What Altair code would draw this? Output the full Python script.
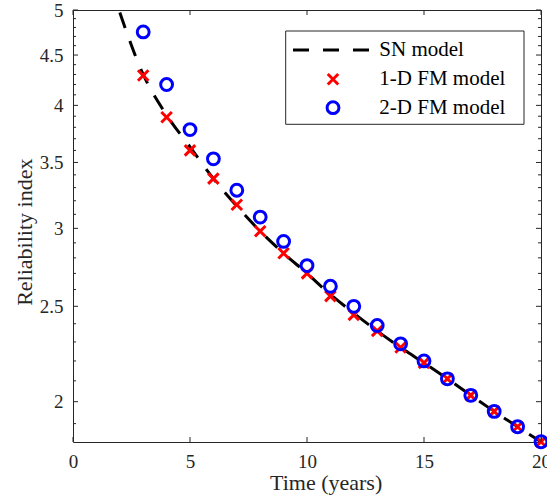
import altair as alt
import pandas as pd

# ---- data ----
time_pts = list(range(3, 21))
fm1_vals = [4.29, 3.89, 3.60, 3.37, 3.17, 2.98, 2.83, 2.70, 2.56, 2.45,
            2.36, 2.27, 2.19, 2.11, 2.03, 1.955, 1.886, 1.821]
fm2_vals = [4.75, 4.20, 3.78, 3.53, 3.28, 3.08, 2.91, 2.75, 2.62, 2.50,
            2.39, 2.29, 2.20, 2.11, 2.03, 1.955, 1.886, 1.821]
sn_time = list(range(2, 21))
sn_vals = [4.97, 4.30, 3.91, 3.63, 3.37, 3.16, 2.98, 2.83, 2.70, 2.57,
           2.46, 2.36, 2.27, 2.19, 2.11, 2.03, 1.955, 1.886, 1.821]
x_ticks = [0, 5, 10, 15, 20]
y_ticks = [2, 2.5, 3, 3.5, 4, 4.5, 5]
y_minor = [1.9, 2.1, 2.2, 2.3, 2.4, 2.6, 2.7, 2.8, 2.9, 3.1, 3.2, 3.3, 3.4,
           3.6, 3.7, 3.8, 3.9, 4.1, 4.2, 4.3, 4.4, 4.6, 4.7, 4.8, 4.9]
legend_labels = ["SN model", "1-D FM model", "2-D FM model"]

W, H = 468, 432
FONT = "Liberation Serif"
AX = "#262626"
XPATH = "M-1,-1L1,1M-1,1L1,-1"
X_SIZE = 110
O_SIZE = 140

xs = alt.Scale(domain=[0, 20], nice=False, zero=False)
ys = alt.Scale(type="log", domain=[1.82, 5], nice=False)

sn_df = pd.DataFrame({"t": sn_time, "v": sn_vals})
fm1_df = pd.DataFrame({"t": time_pts, "v": fm1_vals})
fm2_df = pd.DataFrame({"t": time_pts, "v": fm2_vals})

x_axis = alt.Axis(values=x_ticks, ticks=False, domain=False, grid=False,
                  labelFont=FONT, labelFontSize=19, labelColor=AX,
                  labelPadding=10, labelFlush=False, labelOverlap=False,
                  title="Time (years)", titleFont=FONT, titleFontSize=22,
                  titleFontWeight="normal", titleColor=AX, titleX=252.6,
                  titleY=47, titleBaseline="alphabetic", titleAlign="center")
y_axis = alt.Axis(values=y_ticks, format="~g", ticks=False, domain=False,
                  grid=False, labelFont=FONT, labelFontSize=19, labelColor=AX,
                  labelPadding=10, labelFlush=False, labelOverlap=False,
                  title="Reliability index", titleFont=FONT, titleFontSize=22,
                  titleFontWeight="normal", titleColor=AX, titleX=-42,
                  titleY=221.7, titleAngle=270, titleBaseline="alphabetic",
                  titleAlign="center")

X = alt.X("t:Q", scale=xs, axis=x_axis)
Y = alt.Y("v:Q", scale=ys, axis=y_axis)

sn_line = alt.Chart(sn_df).mark_line(
    color="black", strokeWidth=3, strokeDash=[16, 14], clip=True,
    interpolate="monotone"
).encode(x=X, y=Y)

fm1_pts = alt.Chart(fm1_df).mark_point(
    shape=XPATH, filled=False, stroke="#ff0000", strokeWidth=3, size=X_SIZE,
    opacity=1
).encode(x=X, y=Y)

fm2_pts = alt.Chart(fm2_df).mark_point(
    shape="circle", filled=False, stroke="#0000ff", strokeWidth=3, size=O_SIZE,
    opacity=1
).encode(x=X, y=Y)

# ---- box ticks (inward, all four sides) ----
xt_df = pd.DataFrame({"t": x_ticks})
yt_df = pd.DataFrame({"v": y_ticks})
ym_df = pd.DataFrame({"v": y_minor})

tick_layers = []
for y0, y1 in [(H, H - 5), (0, 5)]:
    tick_layers.append(alt.Chart(xt_df).mark_rule(color=AX, strokeWidth=1).encode(
        x=X, y=alt.value(y0), y2=alt.value(y1)))
for df, ln in [(yt_df, 5), (ym_df, 3)]:
    for x0, x1 in [(0, ln), (W, W - ln)]:
        tick_layers.append(alt.Chart(df).mark_rule(color=AX, strokeWidth=1).encode(
            y=Y, x=alt.value(x0), x2=alt.value(x1)))

# ---- legend (manual) ----
one = pd.DataFrame({"k": [0]})
leg_box = alt.Chart(one).mark_rect(fill="white", stroke=AX, strokeWidth=1).encode(
    x=alt.value(212.7), x2=alt.value(451), y=alt.value(21), y2=alt.value(114.3))
leg_line = alt.Chart(one).mark_rule(color="black", strokeWidth=3, strokeDash=[16, 14]).encode(
    x=alt.value(220), x2=alt.value(296), y=alt.value(40))
leg_x = alt.Chart(one).mark_point(
    shape=XPATH, filled=False, stroke="#ff0000", strokeWidth=3, size=X_SIZE, opacity=1
).encode(x=alt.value(260), y=alt.value(69.3))
leg_o = alt.Chart(one).mark_point(
    shape="circle", filled=False, stroke="#0000ff", strokeWidth=3, size=O_SIZE, opacity=1
).encode(x=alt.value(260), y=alt.value(97.7))
leg_texts = []
for lab, yy in zip(legend_labels, [40, 69.3, 97.7]):
    leg_texts.append(alt.Chart(pd.DataFrame({"label": [lab]})).mark_text(
        font=FONT, fontSize=21, color="black", align="left", baseline="middle"
    ).encode(x=alt.value(306.3), y=alt.value(yy), text="label:N"))

chart = alt.layer(
    sn_line, fm1_pts, fm2_pts, *tick_layers,
    leg_box, leg_line, leg_x, leg_o, *leg_texts
).properties(
    width=W, height=H,
    autosize=alt.AutoSizeParams(type="none"),
    padding={"left": 73, "top": 10, "right": 6, "bottom": 55},
    background="white",
).configure_view(stroke=AX, strokeWidth=1)

chart.save("out.html", embed_options={"renderer": "svg", "actions": False})
